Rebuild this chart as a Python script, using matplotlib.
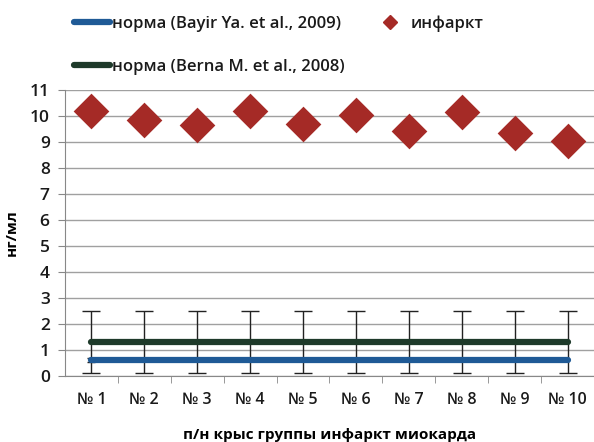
import numpy as np
import matplotlib.pyplot as plt
from matplotlib.lines import Line2D

plt.rcParams['font.family'] = ['Open Sans', 'Noto Sans', 'DejaVu Sans']

# data
rats = ['№ 1', '№ 2', '№ 3', '№ 4', '№ 5', '№ 6', '№ 7', '№ 8', '№ 9', '№ 10']
infarct = [10.19, 9.86, 9.64, 10.19, 9.69, 10.04, 9.44, 10.15, 9.36, 9.04]
norm_bayir = [0.6] * 10
norm_berna = [1.3] * 10
berna_err = [1.2] * 10
bayir_err = [0.07] * 10

fig = plt.figure(figsize=(5.94, 4.42), dpi=100)
ax = fig.add_axes([0.1094, 0.15, 0.8906, 0.6464])

x = np.arange(len(rats))

ax.errorbar(x, norm_berna, yerr=berna_err, fmt='none', ecolor='#222222',
            elinewidth=1.0, capsize=6.5, capthick=1.0, zorder=3)
ax.errorbar(x[:1], norm_bayir[:1], yerr=bayir_err[:1], fmt='none', ecolor='#222222',
            elinewidth=1.0, capsize=3, capthick=1.0, zorder=3)
ax.plot(x, norm_bayir, color='#1f5a96', lw=4.5, solid_capstyle='round', zorder=4)
ax.plot(x, norm_berna, color='#1e3a2a', lw=4.5, solid_capstyle='round', zorder=4)
ax.scatter(x, infarct, marker='D', s=330, color='#a52a26', zorder=5, linewidths=0)

ax.set_xlim(-0.5, len(rats) - 0.5)
ax.set_ylim(0, 11)
ax.set_yticks(range(0, 12))
ax.set_xticks(x)
ax.set_xticklabels(rats, fontsize=11.5, color='#1a1a1a', fontweight='semibold')
ax.set_xticks(np.arange(0.5, len(rats) - 0.5), minor=True)
ax.tick_params(axis='x', which='major', length=0, pad=12)
ax.tick_params(axis='x', which='minor', length=5, color='#888888')
ax.tick_params(axis='y', length=5, color='#888888', labelsize=12.5, labelcolor='#1a1a1a', pad=6)
for t in ax.get_yticklabels():
    t.set_fontweight('semibold')

ax.grid(axis='y', color='#a0a0a0', lw=1.0)
ax.set_axisbelow(True)
for s in ['top', 'right']:
    ax.spines[s].set_visible(False)
ax.spines['left'].set_color('#888888')
ax.spines['bottom'].set_color('#888888')

ax.set_ylabel('нг/мл', fontsize=11, fontweight='bold', labelpad=8)
ax.set_xlabel('п/н крыс группы инфаркт миокарда', fontsize=11, fontweight='bold', labelpad=14)

handles = [
    Line2D([], [], color='#1f5a96', lw=4.5, solid_capstyle='round'),
    Line2D([], [], color='#1e3a2a', lw=4.5, solid_capstyle='round'),
    Line2D([], [], marker='D', color='#a52a26', ls='none', markersize=7),
]
labels = ['норма (Bayir Ya. et al., 2009)', 'норма (Berna M. et al., 2008)', 'инфаркт']
leg = fig.legend(handles, labels, ncol=2, loc='upper left', bbox_to_anchor=(0.124, 0.965),
                 frameon=False, fontsize=12, handlelength=2.2, handletextpad=0.12,
                 columnspacing=1.6, labelspacing=1.6, borderpad=0, borderaxespad=0,
                 prop={'size': 12, 'weight': 'semibold'})
for t in leg.get_texts():
    t.set_color('#1a1a1a')

fig.savefig('out.png', dpi=100)
